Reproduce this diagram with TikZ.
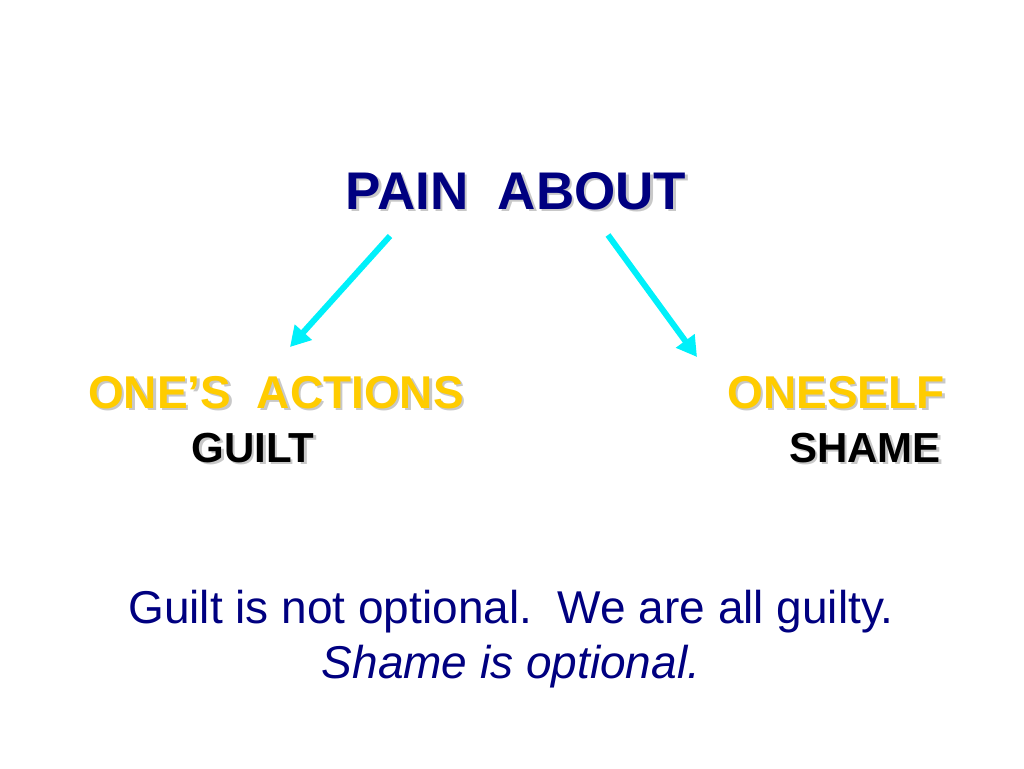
\documentclass[tikz,border=0pt]{standalone}
\usepackage{fontspec}
\setmainfont{Liberation Sans}
\usetikzlibrary{arrows.meta}
\definecolor{navy}{RGB}{0,0,128}
\definecolor{gold}{RGB}{255,204,0}
\definecolor{shadowgrey}{RGB}{200,200,200}
\definecolor{arrowcyan}{RGB}{0,240,250}
\newcommand{\shadowtext}[1]{\makebox[0pt][l]{\hspace{2.5pt}\raisebox{-2.5pt}{\color{shadowgrey}#1}}#1}
\begin{document}
\begin{tikzpicture}[x=1pt,y=-1pt,
  lbl/.style={inner sep=0pt,anchor=base},
  arr/.style={arrowcyan,line width=6pt,-{Triangle[length=20pt,width=22pt]}}]
\useasboundingbox (0,0) rectangle (1024,768);
% PAIN ABOUT
\node[lbl,text=navy,font=\bfseries\fontsize{53}{60}\selectfont] (pain) at (516,209) {\shadowtext{PAIN\ \ ABOUT}};
% ONE'S ACTIONS
\node[lbl,text=gold,font=\bfseries\fontsize{46}{54}\selectfont] (act) at (276,408) {\shadowtext{ONE’S\ \ ACTIONS}};
% ONESELF
\node[lbl,text=gold,font=\bfseries\fontsize{46}{54}\selectfont] (self) at (836,408) {\shadowtext{ONESELF}};
% GUILT
\node[lbl,text=black,font=\bfseries\fontsize{42}{50}\selectfont] (guilt) at (253,462) {\shadowtext{GUILT}};
% SHAME
\node[lbl,text=black,font=\bfseries\fontsize{42}{50}\selectfont] (shame) at (865,462) {\shadowtext{SHAME}};
% bottom text
\node[lbl,text=navy,font=\fontsize{46}{54}\selectfont] (line1) at (511,623) {Guilt is not optional.\ \ We are all guilty.};
\node[lbl,text=navy,font=\itshape\fontsize{46}{54}\selectfont] (line2) at (511,678) {Shame is optional.};
% arrows
\coordinate (la) at (390,236);
\coordinate (lb) at (290,347);
\coordinate (ra) at (608,235);
\coordinate (rb) at (697,357);
\draw[arr] (la) -- (lb);
\draw[arr] (ra) -- (rb);
\end{tikzpicture}
\end{document}
